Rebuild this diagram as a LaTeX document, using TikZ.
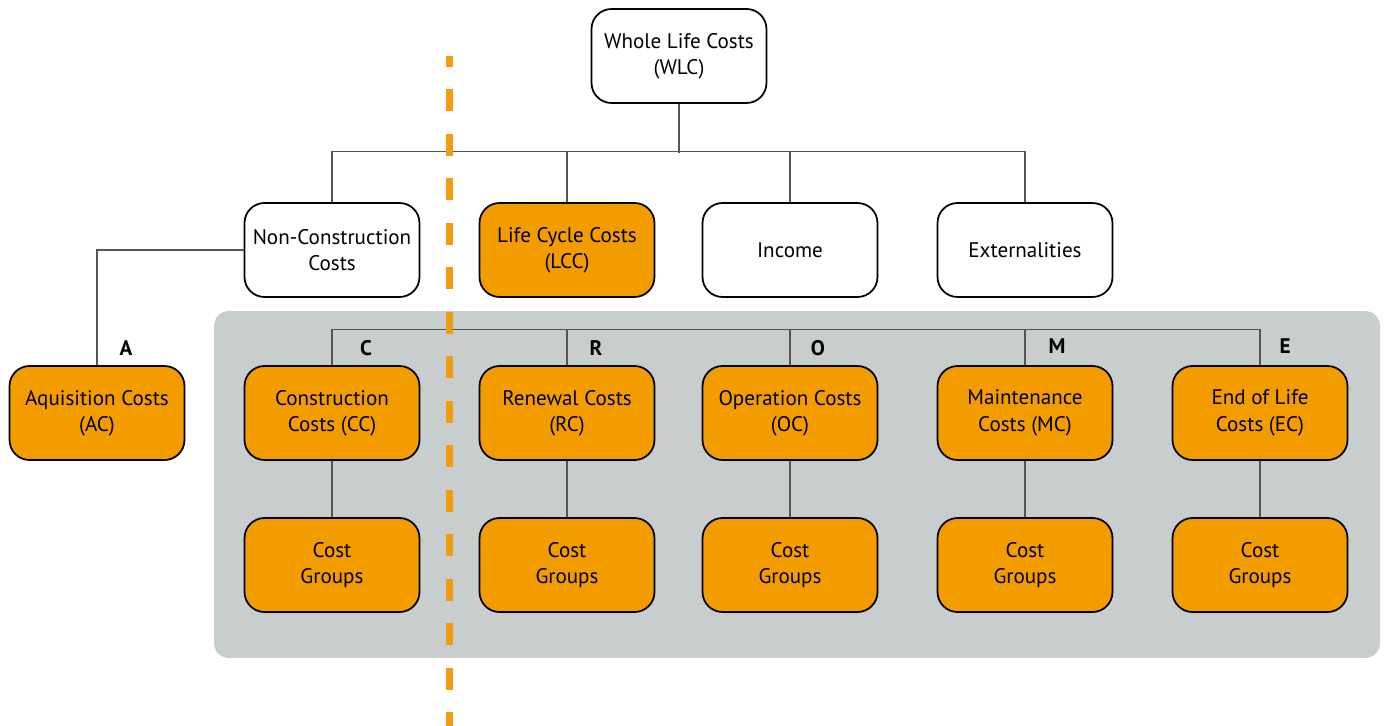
\documentclass[tikz,border=0pt]{standalone}
\usepackage{fontspec}
\setmainfont{PT Sans}
\definecolor{costorange}{HTML}{F39C00}
\definecolor{dashorange}{HTML}{F39C12}
\definecolor{panelgray}{HTML}{C8CDCD}
\definecolor{linegray}{HTML}{555555}
\begin{document}
\begin{tikzpicture}[x=0.02cm, y=-0.02cm,
    costbox/.style={draw=black, line width=1pt, rounded corners=0.4cm,
        minimum width=3.5cm, minimum height=1.88cm, align=center,
        font=\fontsize{12}{15}\selectfont, inner sep=2pt},
    orangebox/.style={costbox, fill=costorange},
    whitebox/.style={costbox, fill=white},
    link/.style={draw=linegray, line width=0.6pt},
    letter/.style={font=\fontsize{12}{14}\selectfont\bfseries}]
    \useasboundingbox (0,0) rectangle (1385,726);
    % grey panel behind the cost groups
    \fill[panelgray, rounded corners=0.3cm] (214,311) rectangle (1380,658);
    % top levels
    \node[whitebox] (wlc) at (679,56) {Whole Life Costs\\(WLC)};
    \node[whitebox] (ncc) at (332,250) {Non-Construction\\Costs};
    \node[orangebox] (lcc) at (567,250) {Life Cycle Costs\\(LCC)};
    \node[whitebox] (inc) at (790,250) {Income};
    \node[whitebox] (ext) at (1025,250) {Externalities};
    % cost categories
    \node[orangebox] (ac) at (97,413) {Aquisition Costs\\(AC)};
    \node[orangebox] (cc) at (332,413) {Construction\\Costs (CC)};
    \node[orangebox] (rc) at (567,413) {Renewal Costs\\(RC)};
    \node[orangebox] (oc) at (790,413) {Operation Costs\\(OC)};
    \node[orangebox] (mc) at (1025,413) {Maintenance\\Costs (MC)};
    \node[orangebox] (ec) at (1260,413) {End of Life\\Costs (EC)};
    % cost groups
    \node[orangebox] (cgc) at (332,565) {Cost\\Groups};
    \node[orangebox] (cgr) at (567,565) {Cost\\Groups};
    \node[orangebox] (cgo) at (790,565) {Cost\\Groups};
    \node[orangebox] (cgm) at (1025,565) {Cost\\Groups};
    \node[orangebox] (cge) at (1260,565) {Cost\\Groups};
    % letters
    \node[letter] (la) at (126,348) {A};
    \node[letter] (lc) at (366,348) {C};
    \node[letter] (lr) at (596,348) {R};
    \node[letter] (lo) at (818,348) {O};
    \node[letter] (lm) at (1057,346) {M};
    \node[letter] (le) at (1285,346) {E};
    % connectors
    \draw[link] (wlc.south) -- ++(0,49);
    \draw[link] (ncc.north) -- ++(0,-51) -| (ext.north);
    \draw[link] (lcc.north) -- ++(0,-51);
    \draw[link] (inc.north) -- ++(0,-51);
    \draw[link] (ncc.west) -| (ac.north);
    \draw[link] (cc.north) -- ++(0,-36) -| (ec.north);
    \draw[link] (rc.north) -- ++(0,-36);
    \draw[link] (oc.north) -- ++(0,-36);
    \draw[link] (mc.north) -- ++(0,-36);
    \draw[link] (cc) -- (cgc);
    \draw[link] (rc) -- (cgr);
    \draw[link] (oc) -- (cgo);
    \draw[link] (mc) -- (cgm);
    \draw[link] (ec) -- (cge);
    % dividing line
    \draw[dashorange, line width=0.14cm, dash pattern=on 0.44cm off 0.45cm,
        dash phase=0.22cm] (449,56) -- (449,726);
\end{tikzpicture}
\end{document}
